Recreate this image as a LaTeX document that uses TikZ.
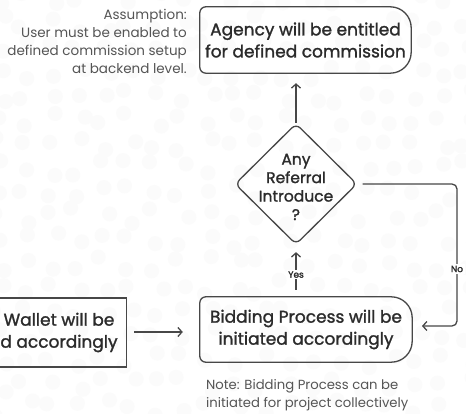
\documentclass[tikz,border=0pt]{standalone}
\usepackage{fontspec}
\setmainfont{Poppins}
\newfontfamily\boxfont{Poppins}[FakeBold=1.4]
\newfontfamily\tagfont{Poppins}[FakeBold=2]
\usetikzlibrary{shapes.geometric,arrows.meta}

\definecolor{inkc}{HTML}{2B2B2B}
\definecolor{linec}{HTML}{474747}
\definecolor{notec}{HTML}{555555}
\definecolor{dotc}{HTML}{FBFBFB}

\tikzset{
  boxline/.style={draw=linec, line width=1.3pt},
  boxtext/.style={text=inkc, font=\boxfont\fontsize{17}{22}\selectfont, align=center,
                  inner sep=0pt},
  notetext/.style={text=notec, font=\fontsize{13.5}{18}\selectfont, inner sep=0pt},
  smalltag/.style={text=inkc, font=\tagfont\fontsize{9}{10}\selectfont, fill=white,
                   inner sep=1.5pt},
  flow/.style={draw=linec, line width=1.3pt,
               -{Straight Barb[length=4pt,width=9pt,line width=1.3pt]}},
  decision/.style={diamond, draw=linec, line width=1.3pt, rounded corners=6pt,
                   minimum width=122pt, minimum height=121pt, inner sep=0pt,
                   aspect=1},
}

% terminal box: small radius on the left corners, large radius on the right
\newcommand{\termbox}[1]{%
  \draw[boxline] ([xshift=6pt]#1.north west) -- ([xshift=-21pt]#1.north east)
    arc[start angle=90, end angle=0, radius=21pt]
    -- ([yshift=21pt]#1.south east)
    arc[start angle=0, end angle=-90, radius=21pt]
    -- ([xshift=6pt]#1.south west)
    arc[start angle=270, end angle=180, radius=6pt]
    -- ([yshift=-6pt]#1.north west)
    arc[start angle=180, end angle=90, radius=6pt] -- cycle;}

\begin{document}
\begin{tikzpicture}[x=1pt, y=1pt]
  \useasboundingbox (0,0) rectangle (466,-414);
  \begin{scope}
    \clip (0,0) rectangle (466,-414);
    \fill[white] (0,0) rectangle (466,-414);
    % faint dotted backdrop
    \pgfmathsetseed{7}
    \foreach \i in {0,...,18} {
      \foreach \j in {0,...,17} {
        \fill[dotc] ({\i*26+rand*8},{-\j*24+rand*8}) circle (7.5pt);
      }
    }

    % nodes
    \node[boxtext, minimum width=211pt, minimum height=66pt] (agency) at (305.5,-40)
      {Agency will be entitled\\for defined commission};
    \termbox{agency}

    \node[decision, label={[boxtext, yshift=-3pt, font=\boxfont\fontsize{15.5}{18.5}\selectfont]center:{Any\\Referral\\Introduce\\?}}]
      (q) at (296,-184) {};

    \node[boxtext, minimum width=212pt, minimum height=65pt] (bid) at (306,-329.5)
      {Bidding Process will be\\initiated accordingly};
    \termbox{bid}

    \node[boxtext, boxline, minimum width=135pt, minimum height=69pt] (wallet)
      at (59,-332.5) {Wallet will be\\d accordingly};

    \node[notetext, align=right, anchor=north east] (assume) at (187,-9)
      {Assumption:\\User must be enabled to\\defined commission setup\\at backend level.};

    \node[notetext, align=left, anchor=north west, font=\fontsize{13.2}{18.5}\selectfont]
      (note) at (206,-379)
      {Note: Bidding Process can be\\initiated for project collectively};

    % connectors
    \draw[flow, shorten >=10pt] (q.north) -- (q.north |- agency.south);
    \draw[flow, shorten <=7pt, shorten >=7pt] (q.south |- bid.north) -- (q.south)
      node[smalltag, pos=0.43] (yes) {Yes};
    \coordinate (noturn) at (457,-184);
    \coordinate (nodown) at (457,-326);
    \coordinate (noend) at (412,-326);
    \draw[flow, rounded corners=5pt, shorten <=5pt, shorten >=10pt]
      (q.east) -- (noturn) -- (nodown) -- (noend);
    \node[smalltag] (no) at (457,-269) {No};
    \draw[flow, shorten <=7pt, shorten >=17pt] (wallet.east |- 0,-332) -- (bid.west |- 0,-332);
  \end{scope}
\end{tikzpicture}
\end{document}
